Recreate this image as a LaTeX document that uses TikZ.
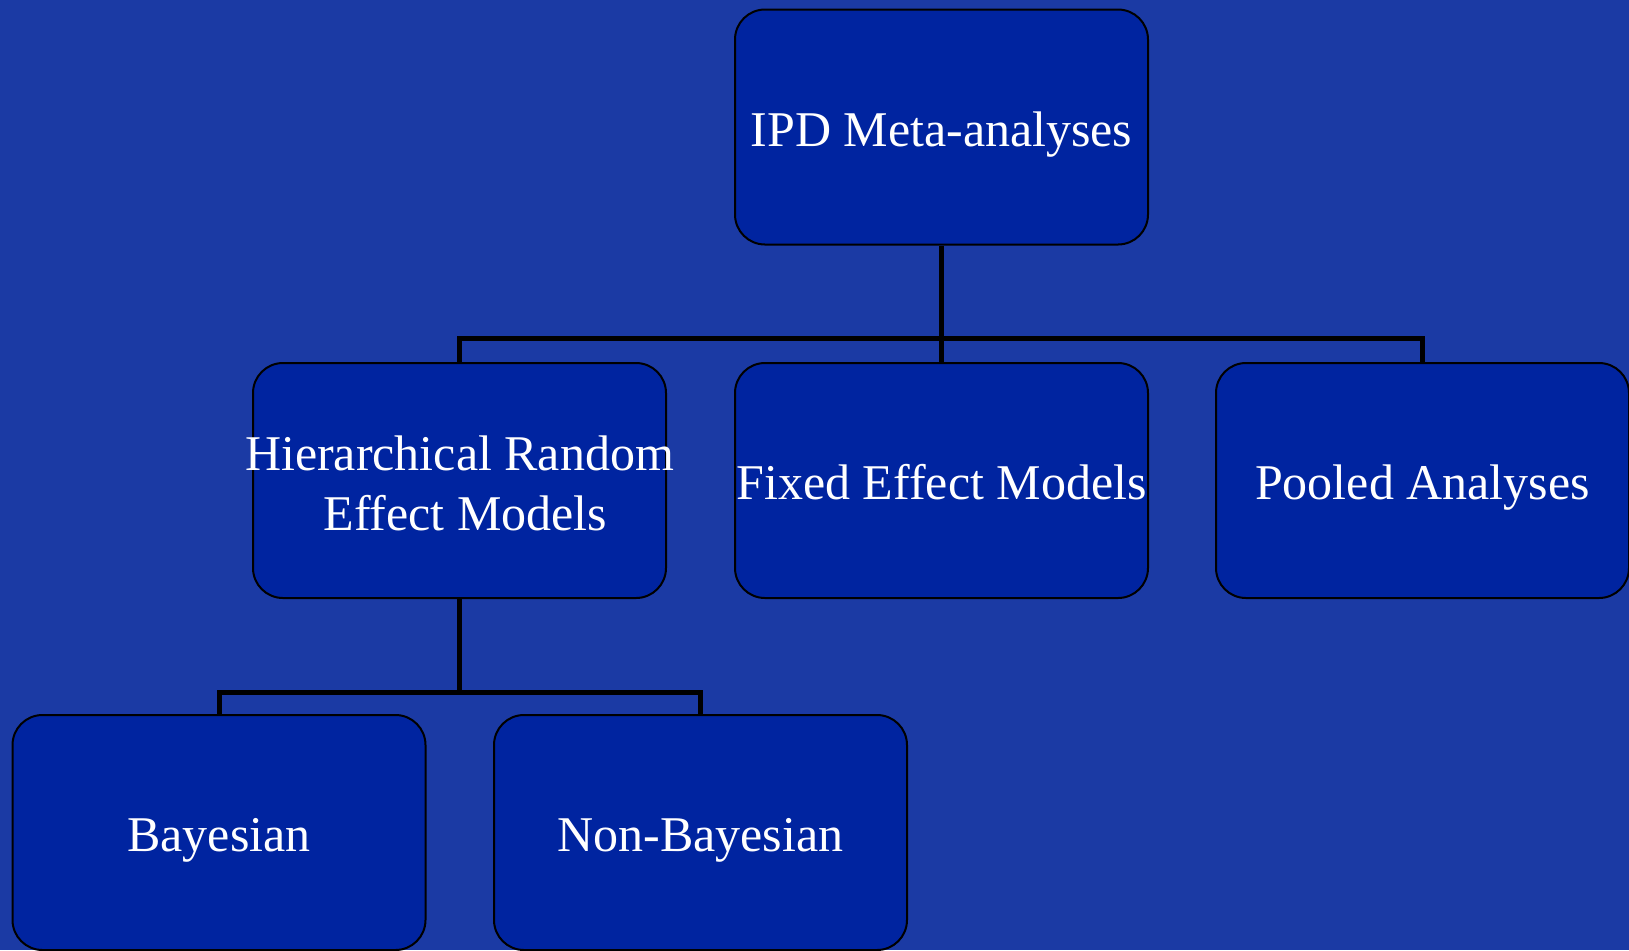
\documentclass[tikz,border=0pt]{standalone}
\usepackage{fontspec}
\setmainfont{Liberation Serif}
\definecolor{slideblue}{RGB}{27,58,164}
\definecolor{boxblue}{RGB}{0,36,160}
\tikzset{
  level/.style={draw=black, line width=1pt, fill=boxblue, rounded corners=15pt,
    minimum width=206.5pt, minimum height=117.5pt, inner sep=0pt, align=center,
    text=white, font=\fontsize{25}{30}\selectfont},
  oneline/.style={level, text height=23pt, text depth=4pt},
  link/.style={line width=2.5pt, black}
}
\begin{document}
\begin{tikzpicture}[x=0.5pt, y=-0.5pt]
  \fill [slideblue] (0,0) rectangle (1629,950);
  \useasboundingbox (0,0) rectangle (1629,950);
  \node [oneline] (ipd) at (941.5,127) {IPD Meta-analyses};
  \node [level] (hre) at (459.5,480.5)
    {\rule{0pt}{20pt}\makebox[0pt]{Hierarchical Random}\\\makebox[0pt]{\hspace*{6pt}Effect Models}};
  \node [oneline] (fixed) at (941.5,480.5) {\makebox[0pt]{Fixed Effect Models}};
  \node [oneline] (pooled) at (1422.5,480.5) {Pooled Analyses};
  \node [oneline] (bayes) at (219,832.5) {Bayesian};
  \node [oneline] (nonbayes) at (700.5,832.5) {Non-Bayesian};
  \coordinate (bar1) at (941.5,338);
  \coordinate (bar2) at (459.5,692);
  \draw [link] (ipd.south) -- (bar1);
  \draw [link] (bar1) -- (fixed.north);
  \draw [link] (hre.north) |- (bar1) -| (pooled.north);
  \draw [link] (hre.south) -- (bar2);
  \draw [link] (bayes.north) |- (bar2) -| (nonbayes.north);
\end{tikzpicture}
\end{document}
